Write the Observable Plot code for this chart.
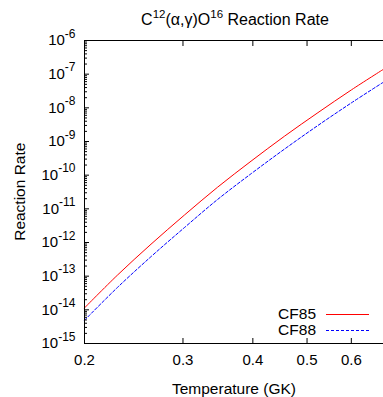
<!DOCTYPE html>
<html><head><meta charset="utf-8">
<script src="https://cdn.jsdelivr.net/npm/d3@7"></script>
<script src="https://cdn.jsdelivr.net/npm/@observablehq/plot@0.6"></script>
<style>
body{margin:0;background:#fff;}
#wrap{position:relative;width:383px;height:397px;overflow:hidden;font-family:"Liberation Sans",Arial,sans-serif;}
#wrap svg{position:absolute;left:0;top:0;}
</style></head><body><div id="wrap"></div>
<script>
// Data
const temperature = [0.2, 0.229, 0.263, 0.302, 0.346, 0.397, 0.456, 0.523, 0.600, 0.685];
const rateCF85 = [1.14e-14, 1.07e-13, 8.9e-13, 6.6e-12, 4.4e-11, 2.6e-10, 1.45e-9, 7.2e-9, 3.4e-8, 1.4e-7];
const rateCF88 = [4.9e-15, 4.6e-14, 3.8e-13, 2.8e-12, 1.9e-11, 1.1e-10, 6.0e-10, 3.0e-9, 1.4e-8, 5.8e-8];
const seriesNames = ["CF85", "CF88"];
const xTicks = [0.2, 0.3, 0.4, 0.5, 0.6];
const yExponents = [-15, -14, -13, -12, -11, -10, -9, -8, -7, -6];
const titleText = ["C", "12", "(α,γ)O", "16", " Reaction Rate"];
const xLabel = "Temperature (GK)";
const yLabel = "Reaction Rate";

const yTicks = yExponents.map(e => Number("1e" + e));
const yMinor = [];
for (const e of yExponents.slice(0, -1)) for (let m = 2; m <= 9; m++) yMinor.push(Number(m + "e" + e));

const rows85 = temperature.map((t, i) => ({T: t, rate: rateCF85[i]}));
const rows88 = temperature.map((t, i) => ({T: t, rate: rateCF88[i]}));

const plot = Plot.plot({
  width: 383, height: 397,
  marginLeft: 84, marginRight: 0, marginTop: 40, marginBottom: 54,
  style: {fontFamily: "'Liberation Sans', Arial, sans-serif", fontSize: "15px", background: "transparent", color: "black", overflow: "visible"},
  x: {type: "log", domain: [0.2, 0.685], label: null},
  y: {type: "log", domain: [1e-15, 1e-6], label: null},
  marks: [
    Plot.line(rows85, {x: "T", y: "rate", stroke: "#ff0000", strokeWidth: 1, curve: "catmull-rom"}),
    Plot.line(rows88, {x: "T", y: "rate", stroke: "#0000ff", strokeWidth: 1, strokeDasharray: "3,2", curve: "catmull-rom"}),
    Plot.ruleX([0.2], {stroke: "black"}),
    Plot.ruleY([1e-15], {stroke: "black"}),
    Plot.ruleY([1e-6], {stroke: "black"}),
    Plot.axisX(xTicks, {anchor: "bottom", tickSize: 0, tickPadding: 10.5, tickFormat: d => String(d), label: null}),
    Plot.axisX(xTicks, {anchor: "bottom", tickSize: -5, tickFormat: () => "", label: null}),
    Plot.axisX(xTicks, {anchor: "top", tickSize: -5, tickFormat: () => "", label: null}),
    Plot.axisY(yTicks, {anchor: "left", tickSize: 0, tickPadding: 9, tickFormat: d => "10^" + Math.round(Math.log10(d)), label: null}),
    Plot.axisY(yTicks, {anchor: "left", tickSize: -5, tickFormat: () => "", label: null}),
    Plot.axisY(yMinor, {anchor: "left", tickSize: -3, tickFormat: () => "", label: null})
  ]
});

// superscript exponents in y tick labels
plot.querySelectorAll("text").forEach(t => {
  const s = t.textContent;
  if (/^10\^/.test(s)) {
    const exp = s.slice(3);
    t.textContent = "";
    const a = document.createElementNS("http://www.w3.org/2000/svg", "tspan");
    a.textContent = "10";
    const b = document.createElementNS("http://www.w3.org/2000/svg", "tspan");
    b.textContent = exp;
    b.setAttribute("dy", "-7.5");
    b.setAttribute("font-size", "12px");
    t.appendChild(a); t.appendChild(b);
  }
});

const wrap = document.getElementById("wrap");
wrap.appendChild(plot);

const ns = "http://www.w3.org/2000/svg";
const ov = document.createElementNS(ns, "svg");
ov.setAttribute("width", 383); ov.setAttribute("height", 397);
ov.setAttribute("font-family", "'Liberation Sans', Arial, sans-serif");
ov.innerHTML = `
<text x="235" y="25" text-anchor="middle" font-size="16px">${titleText[0]}<tspan dy="-7" font-size="11.5px">${titleText[1]}</tspan><tspan dy="7">${titleText[2]}</tspan><tspan dy="-7" font-size="11.5px">${titleText[3]}</tspan><tspan dy="7">${titleText[4]}</tspan></text>
<text x="234" y="394" text-anchor="middle" font-size="15.5px">${xLabel}</text>
<text transform="translate(25,191.7) rotate(-90)" text-anchor="middle" font-size="15.5px">${yLabel}</text>
<text x="316" y="319" text-anchor="end" font-size="15.5px">${seriesNames[0]}</text>
<text x="316" y="335" text-anchor="end" font-size="15.5px">${seriesNames[1]}</text>
<line x1="326" x2="369" y1="314.5" y2="314.5" stroke="#ff0000" stroke-width="1"/>
<line x1="326" x2="369" y1="330.5" y2="330.5" stroke="#0000ff" stroke-width="1" stroke-dasharray="3,2"/>
`;
wrap.appendChild(ov);
</script></body></html>
